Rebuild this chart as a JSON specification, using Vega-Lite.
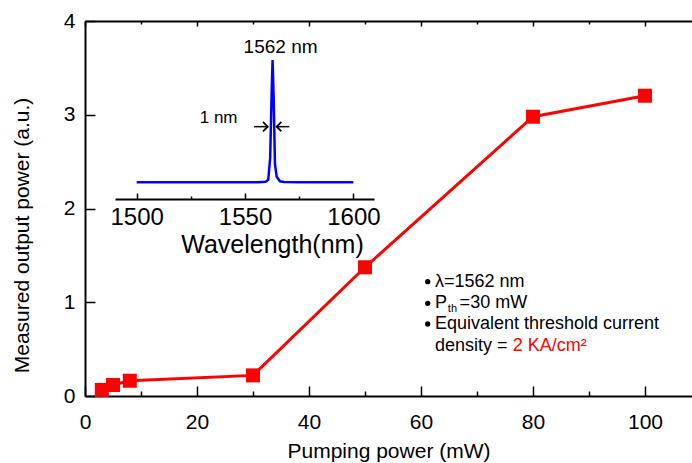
{
  "$schema": "https://vega.github.io/schema/vega-lite/v6.json",
  "width": 607,
  "height": 375,
  "autosize": {"type": "none"},
  "padding": {"left": 85, "top": 21, "right": 0, "bottom": 67},
  "background": "white",
  "config": {
    "view": {"stroke": null},
    "font": "Liberation Sans",
    "axis": {
      "grid": false,
      "domainColor": "black",
      "tickColor": "black",
      "labelColor": "black",
      "titleColor": "black",
      "labelFont": "Liberation Sans",
      "titleFont": "Liberation Sans",
      "titleFontWeight": "normal",
      "labelFlush": false,
      "labelOverlap": false,
      "domainWidth": 2,
      "tickWidth": 1.5
    },
    "text": {"font": "Liberation Sans", "color": "black"}
  },
  "datasets": {
    "power": [
      {"pump": 3, "out": 0.065},
      {"pump": 5, "out": 0.117},
      {"pump": 8, "out": 0.163},
      {"pump": 30, "out": 0.22},
      {"pump": 50, "out": 1.373},
      {"pump": 80, "out": 2.979},
      {"pump": 100, "out": 3.203}
    ],
    "spectrum": [
      {"wl": 1500, "v": 0},
      {"wl": 1540, "v": 0},
      {"wl": 1556, "v": 0.001},
      {"wl": 1559.5, "v": 0.004},
      {"wl": 1560.7, "v": 0.02},
      {"wl": 1561.6, "v": 0.2},
      {"wl": 1562.3, "v": 0.75},
      {"wl": 1562.7, "v": 1.0},
      {"wl": 1563.2, "v": 0.7},
      {"wl": 1563.8, "v": 0.15},
      {"wl": 1564.6, "v": 0.045},
      {"wl": 1566.1, "v": 0.008},
      {"wl": 1568, "v": 0.002},
      {"wl": 1575, "v": 0},
      {"wl": 1600, "v": 0}
    ],
    "arrows": [
      {"wl": 1554.1, "wl2": 1560.45, "v": 0.455, "dir": "right"},
      {"wl": 1570.4, "wl2": 1564.6, "v": 0.455, "dir": "left"}
    ],
    "insetBig": [
      {"wl": 1566.4, "v": 1.109, "label": "1562 nm"}
    ],
    "insetSmall": [
      {"wl": 1537.8, "v": 0.523, "label": "1 nm"}
    ],
    "bullets": [
      {"x": 61.2, "y": 1.219},
      {"x": 61.2, "y": 0.989},
      {"x": 61.2, "y": 0.768}
    ],
    "notes": [
      {"x": 62.5, "y": 1.219, "label": "λ=1562 nm"},
      {"x": 62.5, "y": 0.989, "label": "P"},
      {"x": 66.9, "y": 0.989, "label": "=30 mW"},
      {"x": 62.5, "y": 0.768, "label": "Equivalent threshold current"},
      {"x": 62.5, "y": 0.533, "label": "density = "}
    ],
    "subs": [
      {"x": 64.8, "y": 0.925, "label": "th"}
    ],
    "red": [
      {"x": 76.4, "y": 0.533, "label": "2 KA/cm²"}
    ]
  },
  "layer": [
    {
      "encoding": {
        "x": {
          "field": "pump",
          "type": "quantitative",
          "scale": {"domain": [0, 108.4], "nice": false, "zero": false},
          "axis": {
            "orient": "bottom",
            "values": [0, 10, 20, 30, 40, 50, 60, 70, 80, 90, 100],
            "labelExpr": "datum.value % 20 === 0 ? datum.label : ''",
            "format": "d",
            "tickSize": {"condition": {"test": "datum.value % 20 === 0", "value": -10}, "value": -5},
            "labelFontSize": 21,
            "labelPadding": 25,
            "title": "Pumping power (mW)",
            "titleFontSize": 21,
            "titleY": 61,
            "titleBaseline": "alphabetic"
          }
        },
        "y": {
          "field": "out",
          "type": "quantitative",
          "scale": {"domain": [0, 4], "nice": false},
          "axis": {
            "orient": "left",
            "values": [0, 0.5, 1, 1.5, 2, 2.5, 3, 3.5, 4],
            "labelExpr": "datum.value % 1 === 0 ? datum.label : ''",
            "format": "d",
            "tickSize": {"condition": {"test": "datum.value % 1 === 0", "value": -10}, "value": -5},
            "labelFontSize": 21,
            "labelPadding": 20,
            "title": "Measured output power (a.u.)",
            "titleFontSize": 21,
            "titleX": -63,
            "titleY": 214,
            "titleBaseline": "middle"
          }
        }
      },
      "layer": [
        {"data": {"name": "power"}, "mark": {"type": "line", "color": "#ff0000", "strokeWidth": 3}},
        {"data": {"name": "power"}, "mark": {"type": "point", "shape": "square", "filled": true, "color": "#ff0000", "opacity": 1, "size": 196}},
        {
          "data": {"name": "bullets"},
          "mark": {"type": "point", "shape": "circle", "filled": true, "color": "black", "opacity": 1, "size": 28},
          "encoding": {"x": {"field": "x", "type": "quantitative"}, "y": {"field": "y", "type": "quantitative"}}
        },
        {
          "data": {"name": "notes"},
          "mark": {"type": "text", "align": "left", "baseline": "middle", "fontSize": 18},
          "encoding": {"x": {"field": "x", "type": "quantitative"}, "y": {"field": "y", "type": "quantitative"}, "text": {"field": "label"}}
        },
        {
          "data": {"name": "subs"},
          "mark": {"type": "text", "align": "left", "baseline": "middle", "fontSize": 11},
          "encoding": {"x": {"field": "x", "type": "quantitative"}, "y": {"field": "y", "type": "quantitative"}, "text": {"field": "label"}}
        },
        {
          "data": {"name": "red"},
          "mark": {"type": "text", "align": "left", "baseline": "middle", "fontSize": 18, "color": "#ff0000"},
          "encoding": {"x": {"field": "x", "type": "quantitative"}, "y": {"field": "y", "type": "quantitative"}, "text": {"field": "label"}}
        }
      ]
    },
    {
      "data": {"name": "power"},
      "mark": {"type": "point", "opacity": 0},
      "encoding": {
        "x": {
          "field": "pump",
          "type": "quantitative",
          "scale": {"domain": [0, 108.4], "nice": false, "zero": false},
          "axis": {
            "orient": "top",
            "values": [0, 10, 20, 30, 40, 50, 60, 70, 80, 90, 100],
            "labels": false,
            "tickSize": {"condition": {"test": "datum.value % 20 === 0", "value": -5}, "value": -3},
            "title": null
          }
        },
        "y": {"field": "out", "type": "quantitative", "scale": {"domain": [0, 4], "nice": false}, "axis": null}
      }
    },
    {
      "encoding": {
        "x": {
          "field": "wl",
          "type": "quantitative",
          "scale": {"domain": [1490, 1609.5], "range": [30, 289], "nice": false, "zero": false},
          "axis": {
            "orient": "bottom",
            "offset": -197,
            "values": [1500, 1525, 1550, 1575, 1600],
            "labelExpr": "datum.value % 50 === 0 ? datum.label : ''",
            "format": "d",
            "tickSize": {"condition": {"test": "datum.value % 50 === 0", "value": -6}, "value": -3},
            "labelFontSize": 24,
            "labelPadding": 12,
            "title": "Wavelength(nm)",
            "titleFontSize": 25,
            "titleX": 187,
            "titleY": 53,
            "titleBaseline": "alphabetic"
          }
        },
        "y": {
          "field": "v",
          "type": "quantitative",
          "scale": {"domain": [0, 1], "range": [161.3, 39], "nice": false, "zero": false},
          "axis": null
        }
      },
      "layer": [
        {"data": {"name": "spectrum"}, "mark": {"type": "line", "color": "#0000ff", "strokeWidth": 2.5}},
        {
          "data": {"name": "arrows"},
          "mark": {"type": "rule", "color": "black", "strokeWidth": 1.5},
          "encoding": {"x2": {"field": "wl2"}}
        },
        {
          "data": {"name": "arrows"},
          "transform": [{"filter": "datum.dir == 'right'"}],
          "mark": {"type": "point", "shape": "M-1,-1L0,0L-1,1", "filled": false, "color": "black", "strokeWidth": 1.8, "opacity": 1, "size": 90},
          "encoding": {"x": {"field": "wl2", "type": "quantitative"}}
        },
        {
          "data": {"name": "arrows"},
          "transform": [{"filter": "datum.dir == 'left'"}],
          "mark": {"type": "point", "shape": "M1,-1L0,0L1,1", "filled": false, "color": "black", "strokeWidth": 1.8, "opacity": 1, "size": 90},
          "encoding": {"x": {"field": "wl2", "type": "quantitative"}}
        },
        {
          "data": {"name": "insetBig"},
          "mark": {"type": "text", "align": "center", "baseline": "middle", "fontSize": 19},
          "encoding": {"text": {"field": "label"}}
        },
        {
          "data": {"name": "insetSmall"},
          "mark": {"type": "text", "align": "center", "baseline": "middle", "fontSize": 17},
          "encoding": {"text": {"field": "label"}}
        }
      ]
    }
  ],
  "resolve": {"scale": {"x": "independent", "y": "independent"}}
}
